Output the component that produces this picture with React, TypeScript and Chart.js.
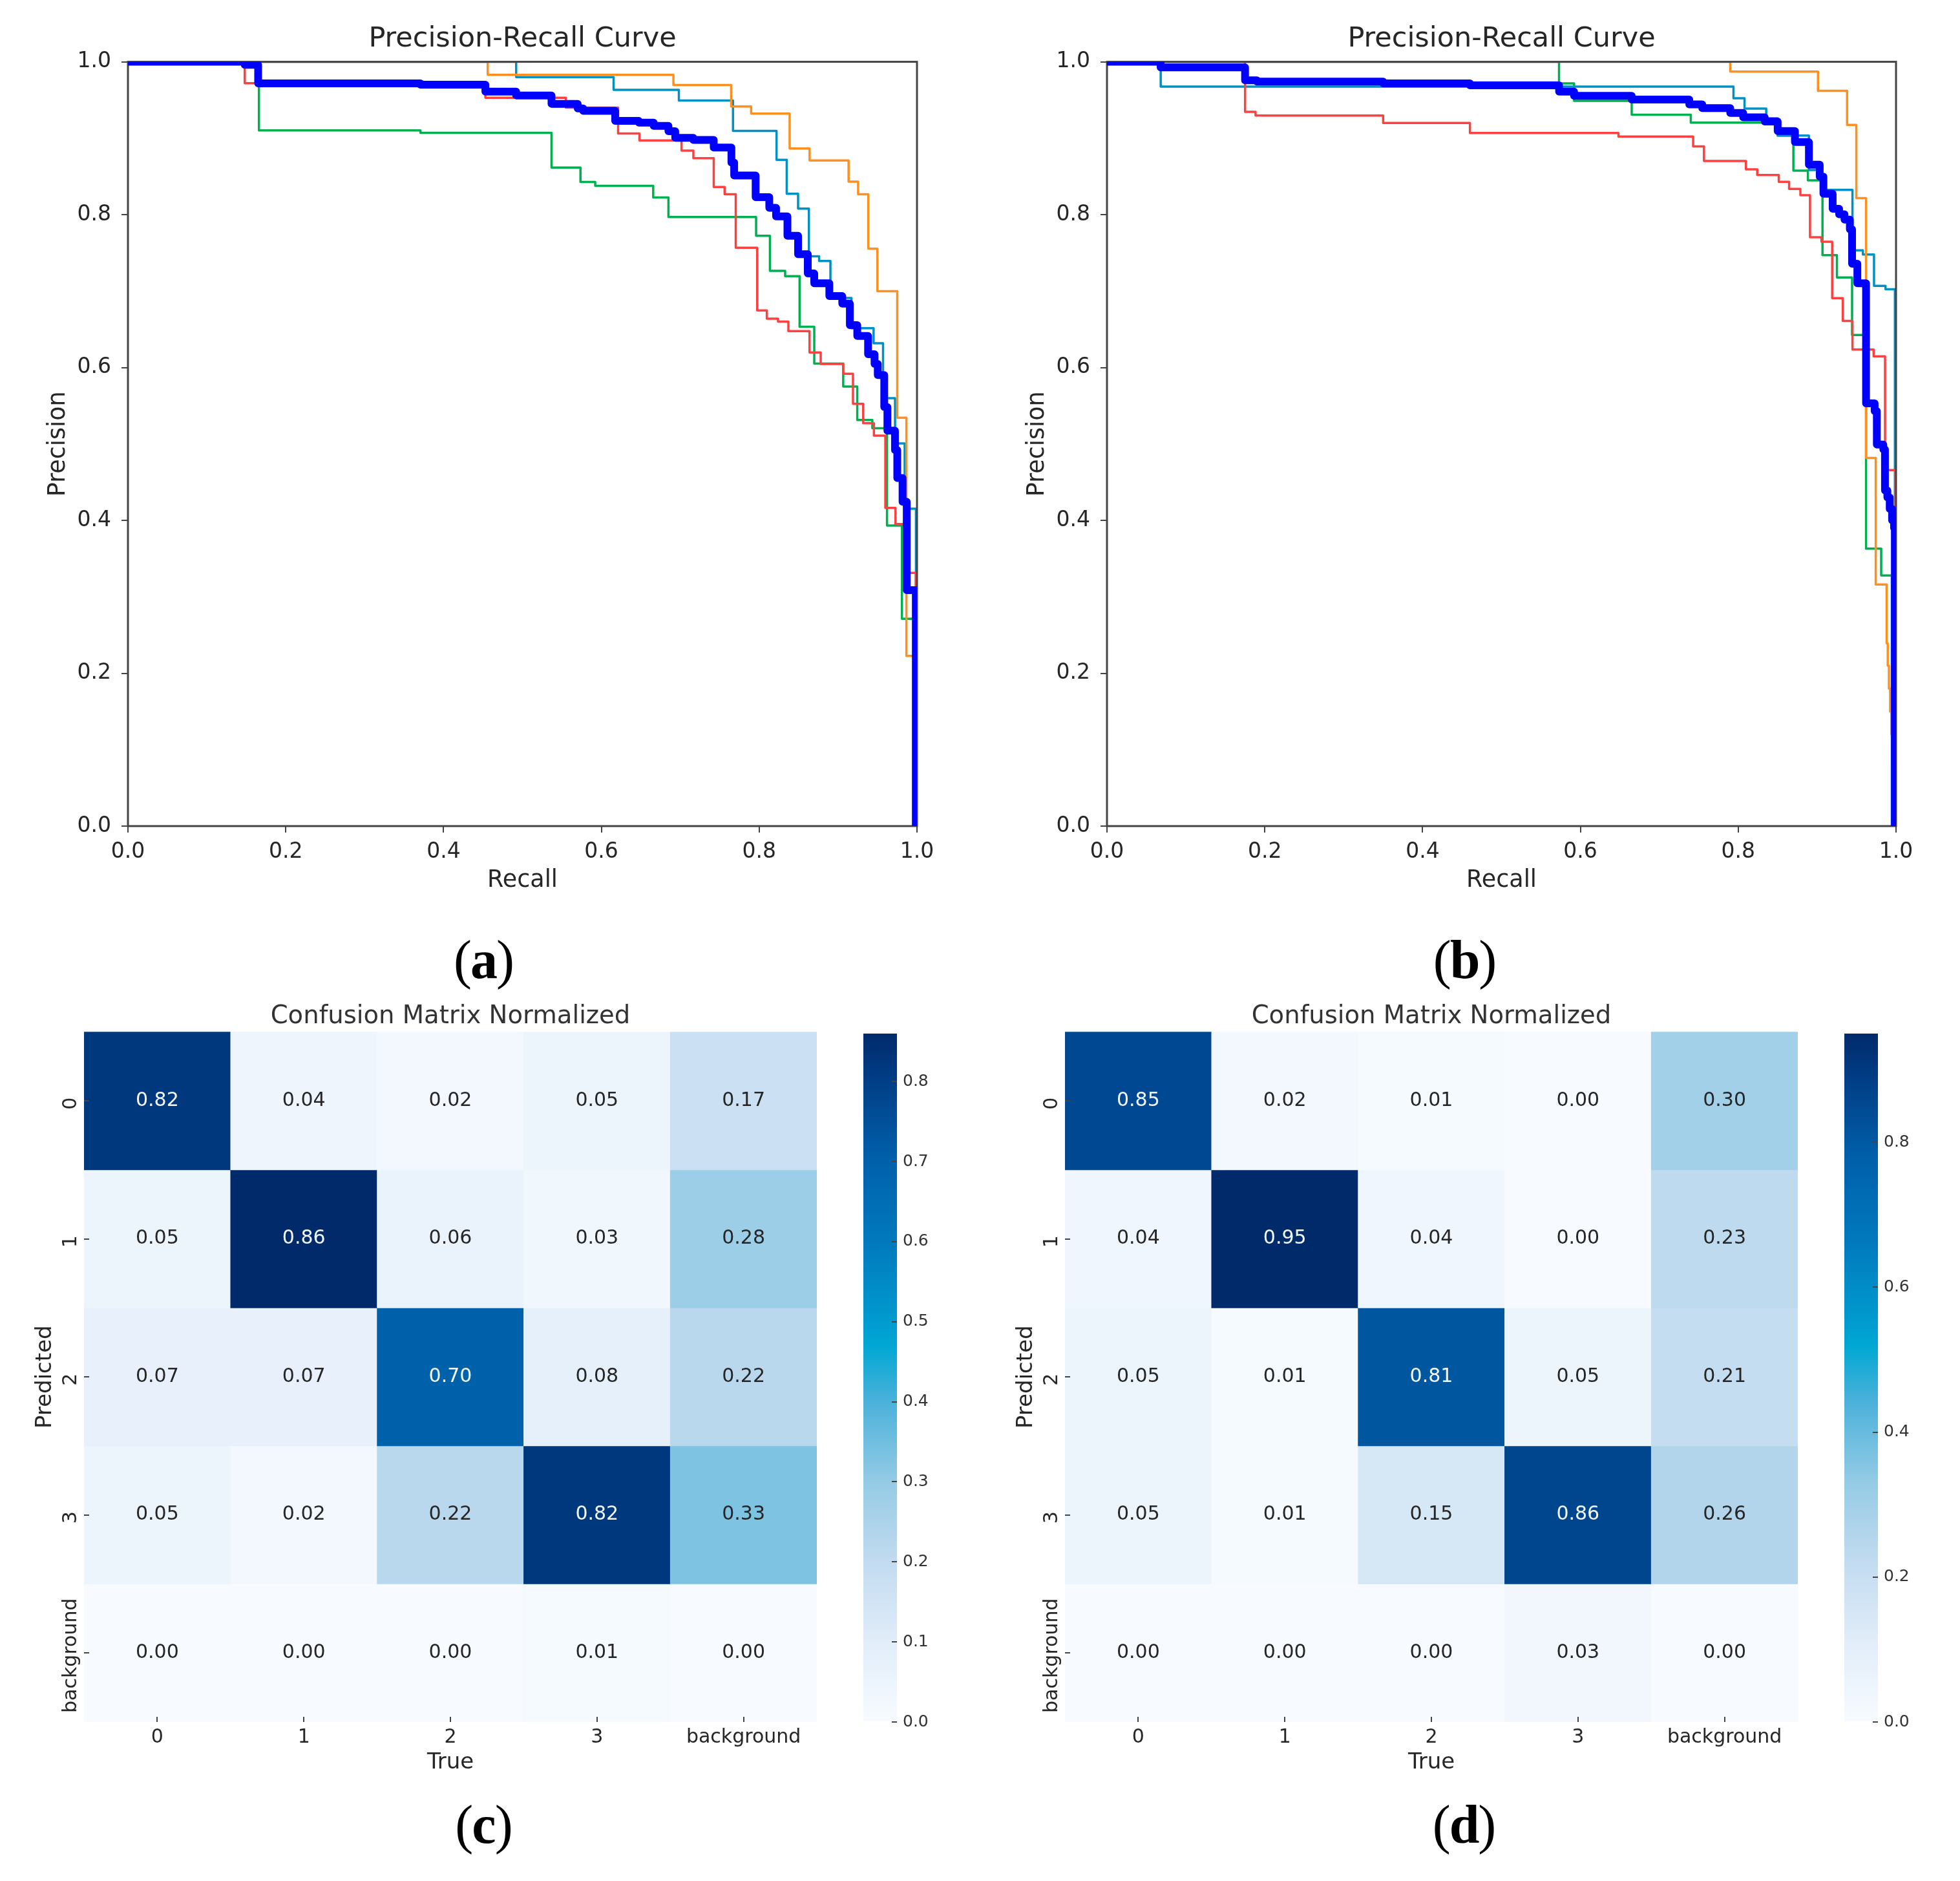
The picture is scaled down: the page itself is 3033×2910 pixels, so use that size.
import React, { useEffect, useRef } from "react";
import { Chart, registerables } from "chart.js";

Chart.register(...registerables);
Chart.defaults.font.family = "'DejaVu Sans', sans-serif";

type Pt = [number, number];

// ---------- Precision-Recall data: [recall, precision held from that recall on] ----------
const aOrange: Pt[] = [[0,1],[.456,.983],[.6913,.9697],[.7645,.9415],[.7898,.9322],[.8386,.8865],[.8639,.871],[.9133,.8433],[.9254,.8267],[.9383,.7554],[.9498,.6998],[.975,.5343],[.9866,.2227],[1,0]];
const aTeal: Pt[] = [[0,1],[.492,.98],[.6155,.9632],[.6982,.9494],[.7668,.9096],[.822,.8718],[.8349,.8273],[.8493,.8078],[.863,.7455],[.876,.7393],[.8903,.691],[.917,.6515],[.945,.6317],[.957,.5598],[.9722,.5006],[.9844,.4153],[.9987,0]];
const aRed: Pt[] = [[0,1],[.148,.972],[.165,.97],[.37,.968],[.453,.953],[.555,.94],[.6212,.9062],[.6482,.8972],[.7016,.8837],[.7166,.8738],[.7424,.8363],[.7562,.8267],[.7703,.7568],[.7975,.6746],[.8097,.6638],[.8239,.6602],[.837,.6476],[.8638,.6197],[.878,.6047],[.9065,.5919],[.9189,.5525],[.9318,.5271],[.9454,.5108],[.9599,.4163],[.9727,.3952],[.985,.3313],[.9985,0]];
const aGreen: Pt[] = [[0,1],[.166,.9102],[.3707,.907],[.5368,.8617],[.5735,.8428],[.5922,.8377],[.6657,.8225],[.685,.7968],[.7961,.7723],[.8136,.7264],[.8329,.7196],[.8512,.6533],[.8698,.6052],[.9065,.5751],[.9243,.5313],[.9434,.5206],[.962,.3932],[.9809,.2713],[.996,0]];
const aMean: Pt[] = [[0,1],[.148,.996],[.165,.9717],[.3707,.97],[.453,.961],[.492,.956],[.5368,.945],[.57,.939],[.577,.9358],[.6175,.9226],[.6476,.9203],[.6663,.9161],[.685,.9091],[.6936,.9006],[.7166,.8978],[.7424,.8879],[.7648,.8682],[.7683,.8512],[.7955,.823],[.8128,.8089],[.8214,.7977],[.8358,.7723],[.8493,.7483],[.8616,.723],[.8698,.7103],[.8889,.6934],[.9053,.6835],[.9149,.6554],[.9243,.6413],[.938,.6173],[.9462,.6047],[.9503,.5902],[.9585,.5482],[.9625,.5173],[.9721,.492],[.975,.4554],[.9817,.4243],[.987,.3087],[.9985,0]];

const bOrange: Pt[] = [[0,1],[.7899,.9872],[.9011,.9621],[.938,.9175],[.9497,.8217],[.962,.4817],[.9743,.3161],[.9881,.2391],[.9895,.21],[.991,.18],[.9925,.15],[.994,.12],[.9955,.09],[.997,.06],[.9985,.03],[1,0]];
const bTeal: Pt[] = [[0,1],[.0681,.9676],[.794,.9522],[.808,.9387],[.8355,.9261],[.85,.9034],[.8896,.8584],[.9047,.8324],[.9448,.7534],[.958,.7478],[.9721,.7069],[.9867,.7024],[.9986,0]];
const bRed: Pt[] = [[0,1],[.175,.9345],[.1883,.9296],[.35,.9199],[.46,.9069],[.6482,.9021],[.7429,.8893],[.7566,.8703],[.8098,.8593],[.8241,.8518],[.8514,.8429],[.8645,.8336],[.8788,.8254],[.891,.7704],[.9055,.7645],[.9191,.6908],[.9325,.661],[.9448,.6235],[.9716,.6146],[.9861,.4658],[.9989,0]];
const bGreen: Pt[] = [[0,1],[.5729,.9717],[.592,.949],[.665,.9308],[.7399,.9204],[.85,.9034],[.8699,.8575],[.8883,.8448],[.9068,.747],[.9251,.7179],[.9443,.6426],[.962,.3631],[.9812,.3279],[.9947,0]];
const bMean: Pt[] = [[0,1],[.068,.9927],[.175,.9757],[.19,.974],[.35,.9717],[.46,.9693],[.573,.961],[.592,.9555],[.665,.9506],[.738,.9443],[.7544,.9395],[.7899,.933],[.8063,.9274],[.8336,.9218],[.85,.9093],[.8719,.8949],[.8896,.8654],[.9033,.8498],[.908,.8274],[.9197,.8076],[.9279,.8005],[.9347,.7935],[.9415,.7808],[.9443,.7357],[.951,.7102],[.962,.5532],[.9729,.5429],[.9757,.4991],[.9839,.4929],[.986,.4391],[.989,.43],[.992,.415],[.995,.4],[.9975,.39],[.9985,0]];

const prTicks = [0, 0.2, 0.4, 0.6, 0.8, 1];

// ---------- Confusion matrices ----------
const classLabels = ["0", "1", "2", "3", "background"];
const matrixC = [
  [0.82, 0.04, 0.02, 0.05, 0.17],
  [0.05, 0.86, 0.06, 0.03, 0.28],
  [0.07, 0.07, 0.70, 0.08, 0.22],
  [0.05, 0.02, 0.22, 0.82, 0.33],
  [0.00, 0.00, 0.00, 0.01, 0.00],
];
const matrixD = [
  [0.85, 0.02, 0.01, 0.00, 0.30],
  [0.04, 0.95, 0.04, 0.00, 0.23],
  [0.05, 0.01, 0.81, 0.05, 0.21],
  [0.05, 0.01, 0.15, 0.86, 0.26],
  [0.00, 0.00, 0.00, 0.03, 0.00],
];
const vmaxC = 0.86;
const vmaxD = 0.95;
const barTicksC = [0, 0.1, 0.2, 0.3, 0.4, 0.5, 0.6, 0.7, 0.8];
const barTicksD = [0, 0.2, 0.4, 0.6, 0.8];

// ---------- Styling ----------
const cmap: [number, string][] = [
  [0, "#f7fbff"], [0.116, "#e1edf9"], [0.233, "#c2dbf0"], [0.349, "#94cbe5"], [0.465, "#4bb1da"],
  [0.547, "#00a7d3"], [0.581, "#009bcf"], [0.698, "#0079bc"], [0.814, "#0061ab"], [0.93, "#003f87"], [1, "#012a6b"],
];
const hex = (s: string) => [1, 3, 5].map((i) => parseInt(s.slice(i, i + 2), 16));
function colorAt(t: number) {
  for (let i = 1; i < cmap.length; i++) {
    if (t <= cmap[i][0]) {
      const [t0, c0] = cmap[i - 1];
      const [t1, c1] = cmap[i];
      const f = (t - t0) / (t1 - t0);
      const a = hex(c0), b = hex(c1);
      return `rgb(${a.map((v, k) => Math.round(v + (b[k] - v) * f)).join(",")})`;
    }
  }
  return cmap[cmap.length - 1][1];
}

const TEXT = "#262626";
const SPINE = "#444444";

// The frame sits over the thin curves and under the thick mean curve (dataset 0, painted last).
const spines = {
  id: "spines",
  beforeDatasetDraw(chart: any, args: any) {
    if (args.index !== 0) return;
    const { ctx, chartArea: a } = chart;
    ctx.save();
    ctx.strokeStyle = SPINE;
    ctx.lineWidth = 3;
    ctx.strokeRect(a.left, a.top, a.right - a.left, a.bottom - a.top);
    ctx.restore();
  },
};

const line = (pts: Pt[], color: string, width: number) => ({
  data: pts.map(([x, y]) => ({ x, y })),
  borderColor: color,
  borderWidth: width,
  pointRadius: 0,
  stepped: true,
  tension: 0,
  clip: 0,
  borderJoinStyle: "round",
  borderCapStyle: "round",
});

function prConfig(series: Pt[][]) {
  const [orange, teal, red, green, mean] = series;
  return {
    type: "line",
    data: {
      // Chart.js paints the first dataset last, so the thick mean curve leads the list
      datasets: [
        line(mean, "#0000ff", 12),
        line(red, "#ff4040", 3.5),
        line(orange, "#ff9020", 3.5),
        line(teal, "#0090c4", 3.5),
        line(green, "#00b050", 3.5),
      ],
    },
    plugins: [spines],
    options: {
      animation: false,
      responsive: false,
      devicePixelRatio: 1,
      layout: { padding: { right: 81 } },
      plugins: {
        legend: { display: false },
        tooltip: { enabled: false },
        title: {
          display: true,
          fullSize: false,
          text: "Precision-Recall Curve",
          color: TEXT,
          font: { size: 43, weight: "normal" },
          padding: { top: 35, bottom: 9 },
        },
      },
      scales: {
        x: {
          type: "linear",
          min: 0,
          max: 1,
          afterBuildTicks: (s: any) => { s.ticks = prTicks.map((value) => ({ value })); },
          afterFit: (s: any) => { s.height = 142; },
          ticks: { color: TEXT, font: { size: 33 }, padding: 11, maxRotation: 0, autoSkip: false, callback: (v: number) => v.toFixed(1) },
          grid: { drawOnChartArea: false, color: SPINE, lineWidth: 2, tickLength: 10 },
          border: { display: false },
          title: { display: true, text: "Recall", color: TEXT, font: { size: 36.5 }, padding: { top: 0, bottom: 36 } },
        },
        y: {
          type: "linear",
          min: 0,
          max: 1,
          afterBuildTicks: (s: any) => { s.ticks = prTicks.map((value) => ({ value })); },
          afterFit: (s: any) => { s.width = 198; },
          ticks: { color: TEXT, font: { size: 33 }, padding: 16, autoSkip: false, callback: (v: number) => v.toFixed(1) },
          grid: { drawOnChartArea: false, color: SPINE, lineWidth: 2, tickLength: 10 },
          border: { display: false },
          title: { display: true, text: "Precision", color: TEXT, font: { size: 36.5 }, padding: { top: 69, bottom: 0 } },
        },
      },
    },
  };
}

const cellLabels = {
  id: "cellLabels",
  afterDatasetsDraw(chart: any) {
    const { ctx, scales, options } = chart;
    const m: number[][] = chart.config.data.datasets.map((d: any) => d.cellValues);
    const vmax = options.plugins.cellLabels.vmax;
    ctx.save();
    ctx.font = "30px 'DejaVu Sans', sans-serif";
    ctx.textAlign = "center";
    ctx.textBaseline = "middle";
    m.forEach((row, i) =>
      row.forEach((v, j) => {
        ctx.fillStyle = v / vmax > 0.6 ? "#f2f7fb" : TEXT;
        ctx.fillText(v.toFixed(2), scales.x.getPixelForValue(j), scales.y.getPixelForValue(i + 0.5));
      })
    );
    ctx.restore();
  },
};

function heatConfig(matrix: number[][], vmax: number) {
  return {
    type: "bar",
    data: {
      labels: classLabels,
      datasets: matrix.map((row, i) => ({
        data: row.map(() => [i, i + 1]),
        cellValues: row,
        backgroundColor: row.map((v) => colorAt(v / vmax)),
        borderWidth: 0,
        barPercentage: 1,
        categoryPercentage: 1,
        grouped: false,
      })),
    },
    plugins: [cellLabels],
    options: {
      animation: false,
      responsive: false,
      devicePixelRatio: 1,
      layout: { padding: { right: 26 } },
      plugins: {
        legend: { display: false },
        tooltip: { enabled: false },
        cellLabels: { vmax },
        title: {
          display: true,
          fullSize: false,
          text: "Confusion Matrix Normalized",
          color: "#333333",
          font: { size: 38.6, weight: "normal" },
          padding: { top: 20, bottom: 0 },
        },
      },
      scales: {
        x: {
          type: "category",
          afterFit: (s: any) => { s.height = 96; },
          ticks: { color: TEXT, font: { size: 30 }, padding: 14, maxRotation: 0, autoSkip: false },
          grid: { drawOnChartArea: false, offset: false, color: "#444444", lineWidth: 2, tickLength: -8, z: 1 },
          border: { display: false },
          title: { display: true, text: "True", color: TEXT, font: { size: 34 }, padding: { top: 0, bottom: 12 } },
        },
        y: {
          type: "linear",
          min: 0,
          max: 5,
          reverse: true,
          afterBuildTicks: (s: any) => { s.ticks = classLabels.map((_, i) => ({ value: i + 0.5 })); },
          afterFit: (s: any) => { s.width = 130; },
          ticks: {
            color: TEXT,
            font: { size: 30 },
            padding: -61,
            labelOffset: 4,
            minRotation: 90,
            maxRotation: 90,
            crossAlign: "center",
            autoSkip: false,
            callback: (v: number) => classLabels[Math.floor(v)],
          },
          grid: { drawOnChartArea: false, color: "#444444", lineWidth: 2, tickLength: -8, z: 1 },
          border: { display: false },
          title: { display: true, text: "Predicted", color: TEXT, font: { size: 34 }, padding: { top: 50, bottom: 0 } },
        },
      },
    },
  };
}

function barConfig(vmax: number, tickValues: number[]) {
  return {
    type: "bar",
    data: {
      labels: [""],
      datasets: [
        {
          data: [vmax],
          barPercentage: 1,
          categoryPercentage: 1,
          borderWidth: 0,
          backgroundColor: (c: any) => {
            const a = c.chart.chartArea;
            if (!a) return "#ffffff";
            const g = c.chart.ctx.createLinearGradient(0, a.bottom, 0, a.top);
            cmap.forEach(([t, col]) => g.addColorStop(t, col));
            return g;
          },
        },
      ],
    },
    options: {
      animation: false,
      responsive: false,
      devicePixelRatio: 1,
      layout: { padding: { left: 36 } },
      plugins: { legend: { display: false }, tooltip: { enabled: false }, title: { display: false } },
      scales: {
        x: { display: false },
        y: {
          position: "right",
          type: "linear",
          min: 0,
          max: vmax,
          afterBuildTicks: (s: any) => { s.ticks = tickValues.map((value) => ({ value })); },
          afterFit: (s: any) => { s.width = 52; },
          ticks: { color: "#333333", font: { size: 25 }, padding: 17, autoSkip: false, callback: (v: number) => v.toFixed(1) },
          grid: { drawOnChartArea: false, color: "#444444", lineWidth: 2, tickLength: -8, z: 1 },
          border: { display: false },
        },
      },
    },
  };
}

function Panel({ config, left, top, width, height }: any) {
  const ref = useRef<HTMLCanvasElement>(null);
  useEffect(() => {
    const chart = new Chart(ref.current as any, config());
    return () => chart.destroy();
  }, []);
  return <canvas ref={ref} width={width} height={height} style={{ position: "absolute", left, top, width, height }} />;
}

function Caption({ letter, cx, top }: { letter: string; cx: number; top: number }) {
  return (
    <div
      style={{
        position: "absolute",
        left: cx - 100,
        top,
        width: 200,
        textAlign: "center",
        fontFamily: "'Liberation Serif', serif",
        fontSize: 84,
        lineHeight: "100px",
        color: "#000",
        letterSpacing: -2,
      }}
    >
      (<b>{letter}</b>)
    </div>
  );
}

export default function App() {
  return (
    <div style={{ position: "absolute", left: 0, top: 0, width: 3033, height: 2910, background: "#fff", overflow: "hidden" }}>
      <Panel config={() => prConfig([aOrange, aTeal, aRed, aGreen, aMean])} left={0} top={0} width={1500} height={1420} />
      <Panel config={() => prConfig([bOrange, bTeal, bRed, bGreen, bMean])} left={1515} top={0} width={1500} height={1420} />
      <Panel config={() => heatConfig(matrixC, vmaxC)} left={0} top={1530} width={1290} height={1230} />
      <Panel config={() => heatConfig(matrixD, vmaxD)} left={1518} top={1530} width={1290} height={1230} />
      <Panel config={() => barConfig(vmaxC, barTicksC)} left={1300} top={1567} width={140} height={1129} />
      <Panel config={() => barConfig(vmaxD, barTicksD)} left={2818} top={1567} width={140} height={1129} />
      <Caption letter="a" cx={748} top={1435} />
      <Caption letter="b" cx={2266} top={1435} />
      <Caption letter="c" cx={748} top={2773} />
      <Caption letter="d" cx={2265} top={2773} />
    </div>
  );
}
